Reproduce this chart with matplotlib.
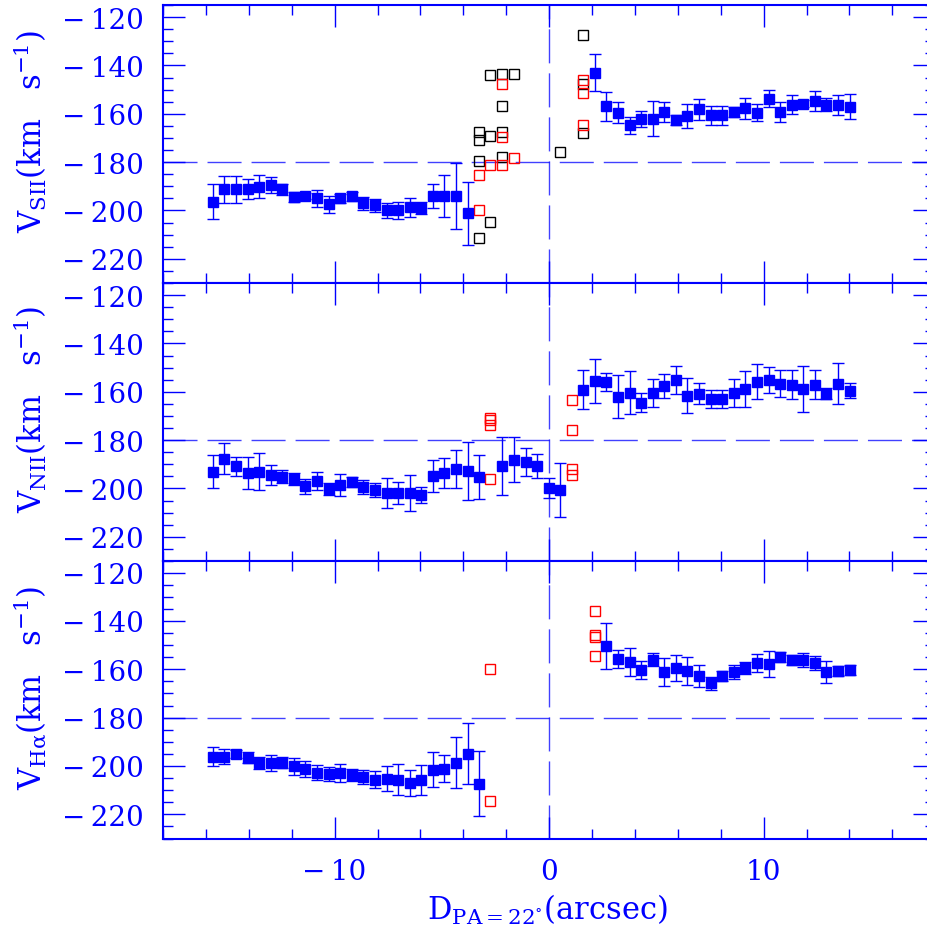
"""Velocity profiles along the slit (PA = 22 deg) for [S II], [N II] and H-alpha."""

import matplotlib

matplotlib.use("Agg")
import matplotlib.pyplot as plt
from matplotlib.ticker import FuncFormatter, MultipleLocator

plt.rcParams["font.family"] = ["DejaVu Serif", "DejaVu Sans"]
plt.rcParams["mathtext.fontset"] = "dejavuserif"

BLUE = "#0000ff"

# ---- [S II] ------------------------------------------------------------
sii_x = [-15.68, -15.14, -14.60, -14.06, -13.52, -12.98, -12.44, -11.90,
         -11.36, -10.82, -10.28, -9.74, -9.20, -8.66, -8.12, -7.58, -7.04,
         -6.50, -5.96, -5.42, -4.88, -4.34, -3.80,
         2.13, 2.67, 3.21, 3.75, 4.29, 4.83, 5.37, 5.91, 6.45, 6.99, 7.53,
         8.07, 8.61, 9.15, 9.69, 10.23, 10.77, 11.31, 11.85, 12.39, 12.93,
         13.47, 14.01]
sii_v = [-196.3, -191.3, -191.3, -191.0, -190.1, -189.6, -191.3, -194.5,
         -194.0, -195.0, -197.5, -194.9, -194.2, -197.1, -197.9, -200.0,
         -200.0, -198.7, -199.1, -194.0, -194.0, -194.0, -201.2,
         -143.0, -156.9, -159.5, -164.8, -162.2, -162.0, -159.1, -162.5,
         -161.0, -158.2, -160.7, -160.7, -159.1, -157.8, -159.5, -153.7,
         -159.1, -156.2, -155.8, -154.7, -156.2, -156.4, -157.0]
sii_err = [7.3, 5.6, 5.6, 4.1, 4.6, 3.3, 2.1, 2.0, 1.2, 3.4, 3.5, 1.9, 1.9,
           2.5, 2.8, 3.0, 3.6, 3.9, 2.5, 5.0, 8.7, 13.8, 13.0,
           7.6, 5.9, 4.3, 3.4, 3.3, 7.2, 4.1, 2.1, 4.9, 4.5, 3.8, 3.9, 2.1,
           4.3, 3.4, 3.7, 4.1, 3.9, 1.4, 4.3, 2.8, 4.0, 5.2]
sii_black_x = [1.60, -2.74, -2.19, -1.65, -2.19, -3.26, -3.26, -2.74, -2.19,
               -2.19, -3.26, -2.74, -3.26, 1.60, 1.60, 0.51]
sii_black_v = [-127.5, -144.0, -143.6, -143.4, -156.7, -167.5, -171.0,
               -169.3, -167.5, -178.0, -179.6, -204.9, -211.3, -147.5,
               -168.0, -176.0]
sii_red_x = [-2.19, -2.19, -1.65, -2.74, -2.19, -3.26, -3.26, 1.60, 1.60, 1.60]
sii_red_v = [-147.8, -169.8, -178.1, -181.0, -181.0, -185.5, -199.7, -146.0,
             -151.5, -164.5]

# ---- [N II] ------------------------------------------------------------
nii_x = [-15.68, -15.14, -14.60, -14.06, -13.52, -12.98, -12.44, -11.90,
         -11.36, -10.82, -10.28, -9.74, -9.20, -8.66, -8.12, -7.58, -7.04,
         -6.50, -5.96, -5.42, -4.88, -4.34, -3.80, -3.26, -2.18, -1.64,
         -1.10, -0.56, -0.02, 0.52,
         1.59, 2.13, 2.67, 3.21, 3.75, 4.29, 4.83, 5.37, 5.91, 6.45, 6.99,
         7.53, 8.07, 8.61, 9.15, 9.69, 10.23, 10.77, 11.31, 11.85, 12.39,
         12.93, 13.47, 14.01]
nii_v = [-193.1, -187.7, -190.8, -193.6, -193.1, -194.4, -195.1, -196.0,
         -199.0, -196.9, -200.2, -198.5, -197.3, -199.4, -200.6, -201.9,
         -201.9, -201.9, -202.7, -194.8, -193.6, -191.9, -192.7, -195.2,
         -190.7, -188.2, -189.0, -190.7, -199.8, -200.6,
         -159.1, -155.4, -155.8, -162.0, -160.4, -164.6, -160.4, -157.5,
         -155.0, -161.6, -160.8, -163.1, -163.1, -160.4, -158.7, -155.8,
         -155.0, -156.6, -157.0, -158.7, -157.0, -160.8, -156.6, -159.5]
nii_err = [6.8, 6.4, 3.9, 6.6, 7.6, 4.1, 2.6, 2.4, 3.1, 3.7, 2.3, 4.6, 2.2,
           3.0, 3.0, 6.1, 4.6, 7.3, 3.2, 6.5, 6.1, 7.7, 12.1, 9.1, 12.2, 9.3,
           5.8, 5.1, 4.1, 11.1,
           8.0, 9.1, 3.7, 8.9, 8.9, 3.9, 5.7, 5.0, 5.8, 7.1, 4.4, 3.7, 3.7,
           5.8, 7.5, 7.1, 5.3, 5.6, 5.9, 9.5, 5.9, 2.3, 8.4, 3.2]
nii_red_x = [-2.74, -2.74, -2.74, -2.74, 1.06, 1.06, 1.06, 1.06]
nii_red_v = [-170.7, -171.8, -173.8, -195.9, -163.3, -175.7, -191.8, -194.4]

# ---- H alpha -----------------------------------------------------------
ha_x = [-15.68, -15.14, -14.60, -14.06, -13.52, -12.98, -12.44, -11.90,
        -11.36, -10.82, -10.28, -9.74, -9.20, -8.66, -8.12, -7.58, -7.04,
        -6.50, -5.96, -5.42, -4.88, -4.34, -3.80, -3.26,
        2.67, 3.21, 3.75, 4.29, 4.83, 5.37, 5.91, 6.45, 6.99, 7.53, 8.07,
        8.61, 9.15, 9.69, 10.23, 10.77, 11.31, 11.85, 12.39, 12.93, 13.47,
        14.01]
ha_v = [-196.1, -196.1, -195.0, -196.5, -198.7, -198.7, -198.7, -200.2,
        -201.2, -202.9, -203.3, -202.9, -203.7, -204.5, -205.6, -205.2,
        -205.6, -207.0, -205.8, -201.6, -201.1, -198.6, -194.9, -207.4,
        -150.4, -155.6, -157.0, -160.3, -156.0, -161.1, -159.5, -160.7,
        -162.8, -165.8, -162.8, -161.1, -159.5, -157.4, -157.8, -154.9,
        -156.2, -156.2, -157.4, -161.1, -160.7, -160.3]
ha_err = [4.1, 3.2, 1.5, 2.3, 2.5, 3.2, 2.3, 3.7, 3.4, 3.1, 3.0, 3.9, 2.6,
          3.0, 3.6, 5.1, 6.6, 5.4, 6.3, 7.3, 5.7, 10.5, 12.7, 13.4,
          9.6, 3.7, 5.8, 3.6, 2.7, 5.9, 5.5, 5.9, 4.6, 2.8, 2.1, 2.8, 2.5,
          3.6, 5.4, 2.0, 2.2, 2.8, 3.1, 4.5, 1.9, 2.2]
ha_red_x = [-2.74, -2.74, 2.13, 2.13, 2.13, 2.13]
ha_red_v = [-159.8, -214.4, -135.9, -145.7, -146.5, -154.7]

x_ticks = [-10, 0, 10]
v_ticks = [-220, -200, -180, -160, -140, -120]
v_sys = -180

LABELS = [
    r"$\mathrm{V_{SII}(km\ \ \ s^{-1})}$",
    r"$\mathrm{V_{NII}(km\ \ \ s^{-1})}$",
    r"$\mathrm{V_{H\alpha}(km\ \ \ s^{-1})}$",
]


def minus_fmt(v, _pos):
    """Long minus with a bit of air, like the SM plots."""
    if v < 0:
        return "\u2212\u2009%d" % abs(v)
    return "%d" % v


def style_ax(ax, bottom):
    ax.set_xlim(-18, 18)
    ax.set_ylim(-230, -115)
    ax.set_xticks(x_ticks)
    ax.set_yticks(v_ticks)
    ax.xaxis.set_minor_locator(MultipleLocator(2))
    ax.yaxis.set_minor_locator(MultipleLocator(5))
    ax.yaxis.set_major_formatter(FuncFormatter(minus_fmt))
    ax.xaxis.set_major_formatter(FuncFormatter(minus_fmt))
    ax.tick_params(which="both", direction="in", top=True, right=True,
                   color=BLUE, labelcolor=BLUE, width=1, labelsize=20, pad=14)
    ax.tick_params(which="major", length=16)
    ax.tick_params(which="minor", length=7.5)
    ax.tick_params(axis="x", labelbottom=bottom)
    for sp in ax.spines.values():
        sp.set_color(BLUE)
        sp.set_linewidth(1.5)
    # systemic velocity / slit centre reference lines
    ax.axhline(v_sys, color=BLUE, lw=1, ls=(0, (24.5, 7.2)), alpha=0.75)
    ax.axvline(0, color=BLUE, lw=1, ls=(0, (24.5, 7.2)), alpha=0.75)


def draw_panel(ax, x, v, err, red=None, black=None):
    if black is not None:
        ax.plot(black[0], black[1], "s", ms=6.5, mfc="none", mec="black",
                mew=1, zorder=3)
    if red is not None:
        ax.plot(red[0], red[1], "s", ms=6.5, mfc="none", mec="red",
                mew=1, zorder=3)
    ax.errorbar(x, v, yerr=err, fmt="s", ms=6.8, color=BLUE, ecolor=BLUE,
                elinewidth=1, capsize=4.3, capthick=1, zorder=4)


fig = plt.figure(figsize=(9.27, 9.37), dpi=100)
left, width = 163 / 927, 772.2 / 927
h = 278 / 937
axes = [
    fig.add_axes([left, 1 - 284 / 937, width, h]),
    fig.add_axes([left, 1 - 562 / 937, width, h]),
    fig.add_axes([left, 1 - 839.5 / 937, width, h]),
]

draw_panel(axes[0], sii_x, sii_v, sii_err,
           red=(sii_red_x, sii_red_v), black=(sii_black_x, sii_black_v))
draw_panel(axes[1], nii_x, nii_v, nii_err, red=(nii_red_x, nii_red_v))
draw_panel(axes[2], ha_x, ha_v, ha_err, red=(ha_red_x, ha_red_v))

label_y = [132, 410, 688]
for i, ax in enumerate(axes):
    style_ax(ax, bottom=(i == 2))
    fig.text(30 / 927, 1 - label_y[i] / 937, LABELS[i], rotation=90,
             ha="center", va="center", color=BLUE, fontsize=22)

fig.text(547 / 927, 1 - 910 / 937, r"$\mathrm{D_{PA=22^{\circ}}(arcsec)}$",
         ha="center", va="center", color=BLUE, fontsize=22)

fig.savefig("out.png", dpi=100)
